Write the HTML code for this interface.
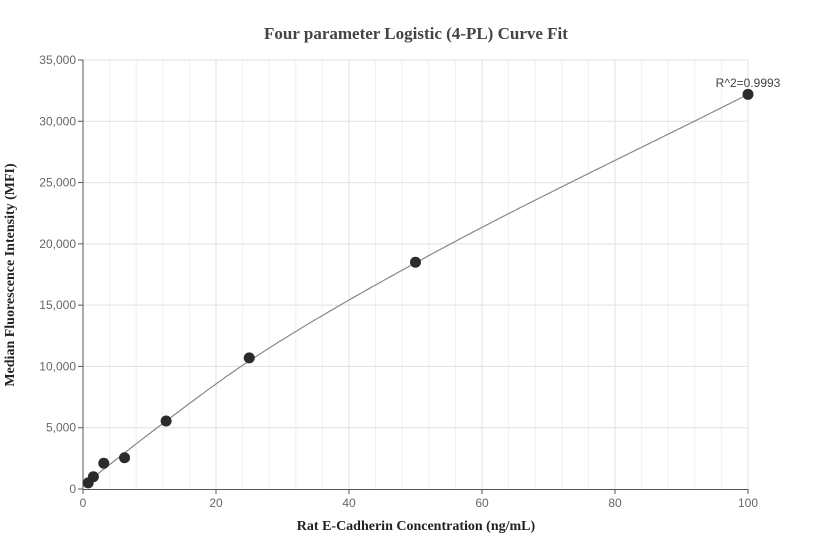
<!DOCTYPE html>
<html><head><meta charset="utf-8"><style>body{margin:0;background:#fff}svg{display:block}</style></head>
<body>
<svg width="832" height="560" xmlns="http://www.w3.org/2000/svg" font-family="Liberation Sans, sans-serif">
<text x="416" y="39" text-anchor="middle" font-family="Liberation Serif, serif" font-weight="bold" font-size="17" fill="#444">Four parameter Logistic (4-PL) Curve Fit</text>
<g id="grid"></g>
<g stroke="#555" stroke-width="1">
<line x1="83" y1="60" x2="83" y2="490"/>
<line x1="83" y1="489.5" x2="748" y2="489.5"/>
</g>
<g id="ticks" font-size="12" fill="#666"></g>
<polyline id="curve" fill="none" stroke="#888" stroke-width="1.2"/>
<g id="pts" fill="#2b2b2b"></g>
<text x="748" y="87" text-anchor="middle" font-size="12" fill="#444">R^2=0.9993</text>
<text x="416" y="530" text-anchor="middle" font-family="Liberation Serif, serif" font-weight="bold" font-size="14" fill="#222">Rat E-Cadherin Concentration (ng/mL)</text>
<text transform="translate(14,275) rotate(-90)" text-anchor="middle" font-family="Liberation Serif, serif" font-weight="bold" font-size="14" fill="#222">Median Fluorescence Intensity (MFI)</text>
</svg>
<script>
const NS="http://www.w3.org/2000/svg";
const px=x=>83+x*6.65, py=y=>489-y*0.012257;
function el(t,a,p,txt){const e=document.createElementNS(NS,t);for(const k in a)e.setAttribute(k,a[k]);if(txt!=null)e.textContent=txt;document.getElementById(p).appendChild(e);}
for(let x=4;x<=100;x+=4){if(x%20)el('line',{x1:px(x),x2:px(x),y1:60,y2:489,stroke:'#eef0f8'},'grid');}
for(let x=20;x<=100;x+=20)el('line',{x1:px(x),x2:px(x),y1:60,y2:489,stroke:'#dde0ee'},'grid');
for(let y=5000;y<=35000;y+=5000)el('line',{x1:83,x2:748,y1:py(y),y2:py(y),stroke:'#dde0ee'},'grid');
for(let y=0;y<=35000;y+=5000){el('line',{x1:78,x2:83,y1:py(y),y2:py(y),stroke:'#555'},'ticks');el('text',{x:76,y:py(y)+4,'text-anchor':'end'},'ticks',y.toLocaleString('en-US'));}
for(let x=0;x<=100;x+=20){el('line',{x1:px(x),x2:px(x),y1:489,y2:494,stroke:'#555'},'ticks');el('text',{x:px(x),y:507,'text-anchor':'middle'},'ticks',String(x));}
// monotone cubic Hermite through knots
const K=[[0,300],[12.5,5550],[25,10450],[50,18450],[100,32200]];
const n=K.length, m=[];
for(let i=0;i<n;i++){
  if(i==0)m.push((K[1][1]-K[0][1])/(K[1][0]-K[0][0]));
  else if(i==n-1)m.push((K[i][1]-K[i-1][1])/(K[i][0]-K[i-1][0]));
  else{const a=(K[i][1]-K[i-1][1])/(K[i][0]-K[i-1][0]),b=(K[i+1][1]-K[i][1])/(K[i+1][0]-K[i][0]);m.push((a+b)/2);}
}
function f(x){let i=0;while(i<n-2&&x>K[i+1][0])i++;const h=K[i+1][0]-K[i][0],t=(x-K[i][0])/h,t2=t*t,t3=t2*t;
return (2*t3-3*t2+1)*K[i][1]+(t3-2*t2+t)*h*m[i]+(-2*t3+3*t2)*K[i+1][1]+(t3-t2)*h*m[i+1];}
let s=[];for(let x=0.6;x<=100.01;x+=0.5){s.push(px(x).toFixed(1)+','+py(f(x)).toFixed(1));}
document.getElementById('curve').setAttribute('points',s.join(' '));
[[0.78,500],[1.56,1000],[3.125,2100],[6.25,2550],[12.5,5550],[25,10700],[50,18500],[100,32200]].forEach(p=>el('circle',{cx:px(p[0]),cy:py(p[1]),r:5.5},'pts'));
</script>
</body></html>
